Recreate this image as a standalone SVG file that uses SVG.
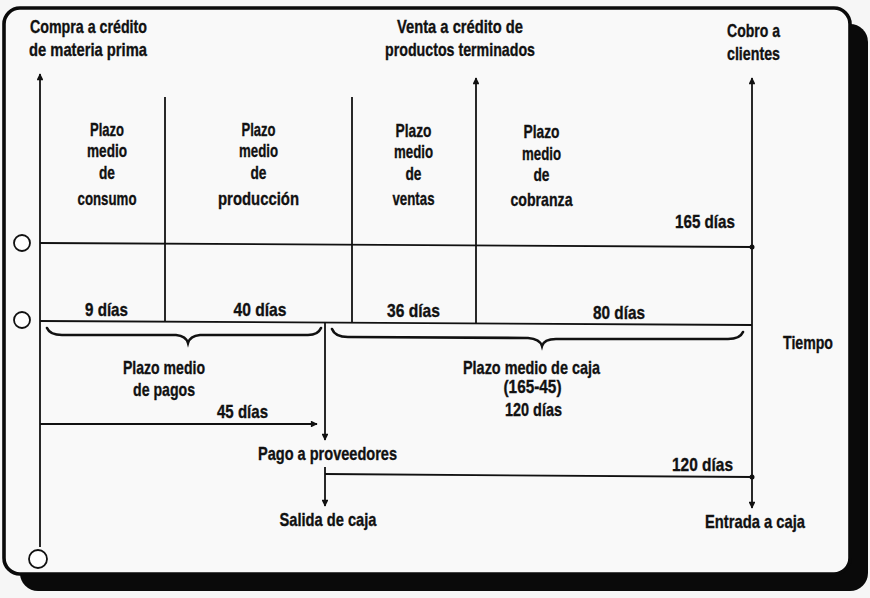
<svg xmlns="http://www.w3.org/2000/svg" width="870" height="598" viewBox="0 0 870 598">
<defs>
<style>
.t{font-family:"Liberation Sans",Arial,sans-serif;font-weight:bold;font-size:19px;fill:#111;stroke:#111;stroke-width:0.35;text-anchor:middle}
.ln{stroke:#111;stroke-width:1.8;fill:none}
.br{stroke:#111;stroke-width:2.6;fill:none;stroke-linecap:round}
.c{stroke:#111;stroke-width:1.8;fill:#fff}
</style>
<marker id="ah" viewBox="0 0 10 10" refX="9" refY="5" markerWidth="4.4" markerHeight="3.8" orient="auto" markerUnits="strokeWidth">
<path d="M0,0 L10,5 L0,10 z" fill="#111"/>
</marker>
</defs>
<rect x="0" y="0" width="870" height="598" fill="#f6f6f6"/>
<g id="frame">
<rect x="20" y="24" width="848" height="567" rx="18" fill="#0a0a0a"/>
<rect x="4" y="8" width="846" height="566" rx="16" fill="#f9f9f9" stroke="#0a0a0a" stroke-width="3.6"/>
</g>
<g id="connectors">
<line class="ln" x1="40" y1="547" x2="40" y2="74" marker-end="url(#ah)"/>
<line class="ln" x1="40" y1="243" x2="752" y2="247"/>
<line class="ln" x1="40" y1="321" x2="752" y2="325"/>
<line class="ln" x1="165" y1="97" x2="165" y2="321"/>
<line class="ln" x1="352" y1="97" x2="352" y2="322"/>
<line class="ln" x1="476" y1="323" x2="476" y2="78" marker-end="url(#ah)"/>
<line class="ln" x1="752" y1="247" x2="752" y2="78" marker-end="url(#ah)"/>
<line class="ln" x1="752" y1="247" x2="752" y2="508" marker-end="url(#ah)"/>
<circle cx="752" cy="247" r="2.5" fill="#111"/>
<circle cx="752" cy="477" r="2.5" fill="#111"/>
<line class="ln" x1="325" y1="322" x2="325" y2="440" marker-end="url(#ah)"/>
<line class="ln" x1="40" y1="424" x2="317" y2="424" marker-end="url(#ah)"/>
<line class="ln" x1="325" y1="467" x2="325" y2="506" marker-end="url(#ah)"/>
<line class="ln" x1="325" y1="474" x2="752" y2="477"/>
<path class="br" d="M47,328 Q50,335 62,335 L176,335 Q186,336 188,343 Q190,336 200,335 L308,335 Q318,335 321,328"/>
<path class="br" d="M332,329 Q335,337 348,337 L528,338 Q540,339 542,346 Q544,339 556,339 L728,339 Q740,339 743,332"/>
</g>
<g id="holes">
<circle class="c" cx="22" cy="243" r="8"/>
<circle class="c" cx="22" cy="320" r="8"/>
<circle class="c" cx="38" cy="559" r="9"/>
</g>
<g id="top-labels">
<text class="t" x="88.5" y="33" textLength="117" lengthAdjust="spacingAndGlyphs">Compra a crédito</text>
<text class="t" x="88" y="56" textLength="118" lengthAdjust="spacingAndGlyphs">de materia prima</text>
<text class="t" x="460" y="33" textLength="126" lengthAdjust="spacingAndGlyphs">Venta a crédito de</text>
<text class="t" x="460" y="56" textLength="150" lengthAdjust="spacingAndGlyphs">productos terminados</text>
<text class="t" x="753.5" y="37" textLength="53" lengthAdjust="spacingAndGlyphs">Cobro a</text>
<text class="t" x="753.5" y="60" textLength="53" lengthAdjust="spacingAndGlyphs">clientes</text>
</g>
<g id="consumo">
<text class="t" x="107" y="136" textLength="34" lengthAdjust="spacingAndGlyphs">Plazo</text>
<text class="t" x="107" y="157" textLength="40" lengthAdjust="spacingAndGlyphs">medio</text>
<text class="t" x="107" y="179" textLength="16" lengthAdjust="spacingAndGlyphs">de</text>
<text class="t" x="107" y="205" textLength="59" lengthAdjust="spacingAndGlyphs">consumo</text>
</g>
<g id="produccion">
<text class="t" x="258.5" y="136" textLength="34" lengthAdjust="spacingAndGlyphs">Plazo</text>
<text class="t" x="258.5" y="157" textLength="39" lengthAdjust="spacingAndGlyphs">medio</text>
<text class="t" x="258.5" y="179" textLength="16" lengthAdjust="spacingAndGlyphs">de</text>
<text class="t" x="258.5" y="205" textLength="81" lengthAdjust="spacingAndGlyphs">producción</text>
</g>
<g id="ventas">
<text class="t" x="413.5" y="137" textLength="36" lengthAdjust="spacingAndGlyphs">Plazo</text>
<text class="t" x="413.5" y="158" textLength="39" lengthAdjust="spacingAndGlyphs">medio</text>
<text class="t" x="413.5" y="180" textLength="16" lengthAdjust="spacingAndGlyphs">de</text>
<text class="t" x="413.5" y="205" textLength="42" lengthAdjust="spacingAndGlyphs">ventas</text>
</g>
<g id="cobranza">
<text class="t" x="541.5" y="138" textLength="36" lengthAdjust="spacingAndGlyphs">Plazo</text>
<text class="t" x="541.5" y="160" textLength="39" lengthAdjust="spacingAndGlyphs">medio</text>
<text class="t" x="541.5" y="181" textLength="16" lengthAdjust="spacingAndGlyphs">de</text>
<text class="t" x="541.5" y="206" textLength="62" lengthAdjust="spacingAndGlyphs">cobranza</text>
</g>
<g id="day-labels">
<text class="t" x="705" y="228" textLength="60" lengthAdjust="spacingAndGlyphs">165 días</text>
<text class="t" x="106.5" y="316" textLength="43" lengthAdjust="spacingAndGlyphs">9 días</text>
<text class="t" x="260" y="316" textLength="53" lengthAdjust="spacingAndGlyphs">40 días</text>
<text class="t" x="413.5" y="317" textLength="53" lengthAdjust="spacingAndGlyphs">36 días</text>
<text class="t" x="619" y="319" textLength="52" lengthAdjust="spacingAndGlyphs">80 días</text>
</g>
<g id="pagos">
<text class="t" x="164" y="374" textLength="82" lengthAdjust="spacingAndGlyphs">Plazo medio</text>
<text class="t" x="164" y="396" textLength="62" lengthAdjust="spacingAndGlyphs">de pagos</text>
<text class="t" x="242.5" y="418" textLength="51" lengthAdjust="spacingAndGlyphs">45 días</text>
<text class="t" x="327.5" y="460" textLength="139" lengthAdjust="spacingAndGlyphs">Pago a proveedores</text>
<text class="t" x="328" y="526" textLength="97" lengthAdjust="spacingAndGlyphs">Salida de caja</text>
</g>
<g id="caja">
<text class="t" x="531.5" y="374" textLength="137" lengthAdjust="spacingAndGlyphs">Plazo medio de caja</text>
<text class="t" x="532.5" y="393" textLength="58" lengthAdjust="spacingAndGlyphs">(165-45)</text>
<text class="t" x="533.5" y="416" textLength="57" lengthAdjust="spacingAndGlyphs">120 días</text>
<text class="t" x="808" y="349" textLength="50" lengthAdjust="spacingAndGlyphs">Tiempo</text>
<text class="t" x="702.5" y="471" textLength="61" lengthAdjust="spacingAndGlyphs">120 días</text>
<text class="t" x="755" y="528" textLength="100" lengthAdjust="spacingAndGlyphs">Entrada a caja</text>
</g>
</svg>
